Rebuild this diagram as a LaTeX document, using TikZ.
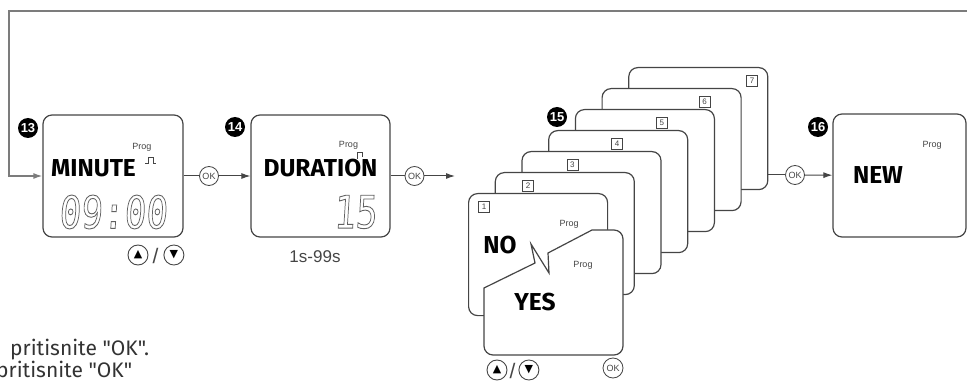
\documentclass[tikz,border=0pt]{standalone}
\usepackage{fontspec}
\usepackage{graphicx}
\usetikzlibrary{positioning, arrows.meta}
\setmainfont{Liberation Sans}
\newfontfamily\scrfont{Fira Sans}
\newfontfamily\lcdfont{DejaVu Sans Mono}[FakeSlant=0.08]
\newfontfamily\symfont{DejaVu Sans}
\definecolor{lineGray}{HTML}{454545}
\definecolor{loopGray}{HTML}{7C7C7C}
% hollow (outlined) glyphs, like the LCD segments
\newcommand{\lcd}[1]{\special{pdf:literal direct 1 Tr 0.9 w}#1\special{pdf:literal direct 0 Tr}}

\begin{document}
\begin{tikzpicture}[
  x=1pt, y=-1pt,
  screen/.style={
    draw=lineGray,
    fill=white,
    line width=1.2pt,
    rounded corners=9pt,
    minimum width=140pt,
    minimum height=122pt,
    inner sep=0pt
  },
  badge/.style={
    circle,
    fill=black,
    text=white,
    minimum size=20pt,
    inner sep=0pt,
    font=\bfseries\fontsize{13}{13}\selectfont
  },
  okbtn/.style={
    circle,
    draw=lineGray,
    line width=0.8pt,
    minimum size=19pt,
    inner sep=0pt,
    text=lineGray,
    font=\fontsize{9}{9}\selectfont
  },
  arrowbtn/.style={
    circle,
    draw=lineGray,
    line width=0.9pt,
    minimum size=20pt,
    inner sep=0pt,
    font=\symfont\fontsize{11}{11}\selectfont
  },
  word/.style={inner sep=0pt, font=\scrfont\bfseries\fontsize{24.5}{24.5}\selectfont},
  prog/.style={inner sep=0pt, text=lineGray, font=\fontsize{9}{9}\selectfont},
  digits/.style={inner sep=0pt, text=black!62, font=\lcdfont\fontsize{45}{45}\selectfont},
  numbox/.style={
    draw=lineGray,
    line width=0.6pt,
    minimum size=11pt,
    inner sep=0pt,
    text=lineGray,
    font=\fontsize{8}{8}\selectfont
  },
  note/.style={inner sep=0pt, anchor=base west, text=black!80, font=\scrfont\fontsize{21}{21}\selectfont},
  link/.style={draw=lineGray, line width=1pt},
  arrow/.style={
    -{Latex[length=9pt, width=6pt]},
    draw=lineGray,
    line width=1pt
  }
]
\useasboundingbox (0,0) rectangle (967,382);
\clip (0,0) rectangle (967,382);

% 13: minute
\node[screen] (minute) at (113,176) {};
\node[badge] (b13) at (28,128) {13};
\node[prog] (prog13) at (142,147) {Prog};
\node[word] (minuteTxt) at (93.5,168) {MINUTE};
\node[digits] (minuteVal) at (113,212) {\scalebox{0.8}[1]{\lcd{09:00}}};
\draw[link, line width=0.8pt] (145,163) -- ++(3,0) -- ++(0,-6) -- ++(5,0) -- ++(0,6) -- ++(3,0);
\node[arrowbtn] (up13) at (138,255) {▲};
\node[arrowbtn, right=15pt of up13] (down13) {▼};
\node[inner sep=0pt, font=\fontsize{21}{21}\selectfont, text=lineGray] (slash13) at (155.5,256) {/};

% 14: duration
\node[okbtn] (ok1) at (209,176) {OK};
\node[screen, minimum width=139pt] (duration) at (320.5,176) {};
\draw[link] (minute) -- (ok1);
\draw[arrow] (ok1) -- (duration);
\node[badge] (b14) at (235,127) {14};
\node[prog] (prog14) at (348.5,145) {Prog};
\node[word] (durationTxt) at (320.5,168) {DURATION};
\draw[link, line width=0.6pt] (357,159) -- (357,152) -- (362,152) -- (362,157);
\node[digits, anchor=east] (durationVal) at (377,212) {\scalebox{0.8}[1]{\lcd{15}}};
\node[inner sep=0pt, font=\fontsize{17}{17}\selectfont, text=lineGray] (range) at (315,257) {1s-99s};

% 15: stack of seven screens
\node[okbtn] (ok2) at (414.5,176) {OK};
\coordinate (stackIn) at (455,176);
\draw[link] (duration) -- (ok2);
\draw[arrow] (ok2) -- (stackIn);
\foreach \k/\dx in {7/124,6/103,5/87,4/69,3/51,2/33.5,1/16} {
  \node[screen, minimum width=139pt, anchor=north west] (card\k) at ({468+(\k-1)*26.7},{193-(\k-1)*21}) {};
  \node[numbox] (num\k) at ({468+(\k-1)*26.7+\dx},{207-(\k-1)*21}) {\k};
}
\node[badge] (b15) at (557,117) {15};
\node[prog] (progNo) at (569,224) {Prog};
\node[word] (noTxt) at (500,245) {NO};
\draw[link, line width=1.2pt, fill=white] (484,288) -- (535,263) -- (531,244) -- (549,273) -- (548,253) -- (592,230)
  {[rounded corners=9pt] -- (623,230) -- (623,355) -- (484,355)} -- cycle;
\node[prog] (progYes) at (583,265) {Prog};
\node[word] (yesTxt) at (535,302) {YES};
\node[arrowbtn] (up15) at (497,370) {▲};
\node[arrowbtn, right=11pt of up15] (down15) {▼};
\node[inner sep=0pt, font=\fontsize{21}{21}\selectfont, text=lineGray] (slash15) at (512.5,371) {/};
\node[okbtn, minimum size=20pt] (ok15) at (613,368) {OK};

% 16: new
\node[screen, minimum width=133pt, minimum height=123pt] (new) at (899.5,175.5) {};
\node[okbtn] (ok3) at (795,175) {OK};
\draw[link] (ok3 -| card7.east) -- (ok3);
\draw[arrow] (ok3) -- (new);
\node[badge] (b16) at (818,127) {16};
\node[prog] (prog16) at (932,145) {Prog};
\node[word] (newTxt) at (878,175) {NEW};

% back to 13
\coordinate (loopR) at (967,11);
\coordinate (loopL) at (9,11);
\draw[arrow, draw=loopGray, line width=1.4pt] (loopR) -- (loopL) |- (minute.west);

\node[note] (note1) at (10,355) {pritisnite "OK".};
\node[note] (note2) at (-4,377) {pritisnite "OK"};
\end{tikzpicture}
\end{document}
